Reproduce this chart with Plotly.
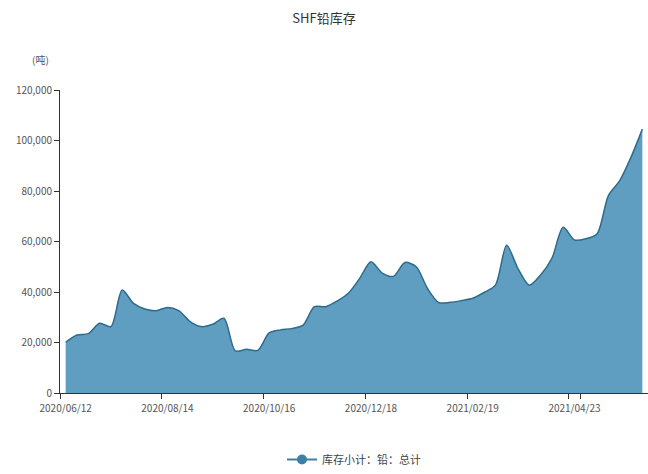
import plotly.graph_objects as go
import pandas as pd

dates = pd.date_range("2020-06-12", periods=52, freq="7D").strftime("%Y/%m/%d").tolist()
values = [20100, 23000, 23500, 27600, 26300, 40800, 35500, 33300, 32600, 33900,
          32600, 28300, 26300, 27200, 29600, 16700, 17300, 16900, 23800, 25000,
          25500, 26900, 34200, 34200, 36400, 39500, 45400, 52000, 47500, 46200,
          51700, 50000, 41400, 35800, 35900, 36600, 37500, 39800, 42700, 58500,
          49300, 42700, 46700, 53300, 65600, 60600, 61100, 63100, 78200, 84100,
          93400, 104500]
series_name = "库存小计：铅：总计"
title_text = "SHF铅库存"
unit_text = "(吨)"
tick_idx = [0, 9, 18, 27, 36, 45]
y_ticks = [0, 20000, 40000, 60000, 80000, 100000, 120000]

font_cn = "Noto Sans CJK SC, Noto Sans, sans-serif"

fig = go.Figure()
fig.add_trace(go.Scatter(
    x=dates, y=values, name=series_name,
    mode="lines",
    line=dict(color="#2e6a8c", width=1.5, shape="spline", smoothing=0.8),
    fill="tozeroy", fillcolor="#5f9ec0",
    showlegend=False,
))
# legend entry (line + circle marker)
fig.add_trace(go.Scatter(
    x=[None], y=[None], name=series_name,
    mode="lines+markers",
    line=dict(color="#3f7fa6", width=2),
    marker=dict(color="#3f7fa6", size=10, symbol="circle"),
))

fig.update_layout(
    width=648, height=474,
    margin=dict(l=60, r=0, t=90, b=79),
    paper_bgcolor="white", plot_bgcolor="white",
    font=dict(family=font_cn, color="#555", size=10),
    title=dict(text=title_text, x=0.5, xref="container", y=1 - 18 / 474,
               yref="container", yanchor="middle", xanchor="center",
               font=dict(size=13, color="#333", family=font_cn)),
    legend=dict(orientation="h", x=0.5, xanchor="center", y=-0.22, yanchor="middle",
                font=dict(size=11, color="#444", family=font_cn)),
    annotations=[dict(text=unit_text, xref="paper", yref="paper", x=-0.015, y=1.1,
                      xanchor="right", yanchor="middle", showarrow=False,
                      font=dict(size=10, color="#555", family=font_cn))],
)
fig.update_xaxes(
    type="category", range=[-0.5, len(dates) - 0.5], automargin=False,
    tickmode="array", tickvals=[dates[i] for i in tick_idx],
    ticktext=[dates[i] for i in tick_idx], tickangle=0,
    tickson="boundaries", ticks="outside", ticklen=5, tickcolor="#333",
    ticklabelstandoff=6,
    showline=True, linecolor="#333", linewidth=1, showgrid=False,
    tickfont=dict(size=10, color="#555"),
)
fig.update_yaxes(
    range=[0, 120000], tickvals=y_ticks, tickformat=",", automargin=False,
    ticks="outside", ticklen=5, tickcolor="#333",
    showline=True, linecolor="#333", linewidth=1, showgrid=False, zeroline=False,
    tickfont=dict(size=10, color="#555"),
)

fig.write_html("out.html")
